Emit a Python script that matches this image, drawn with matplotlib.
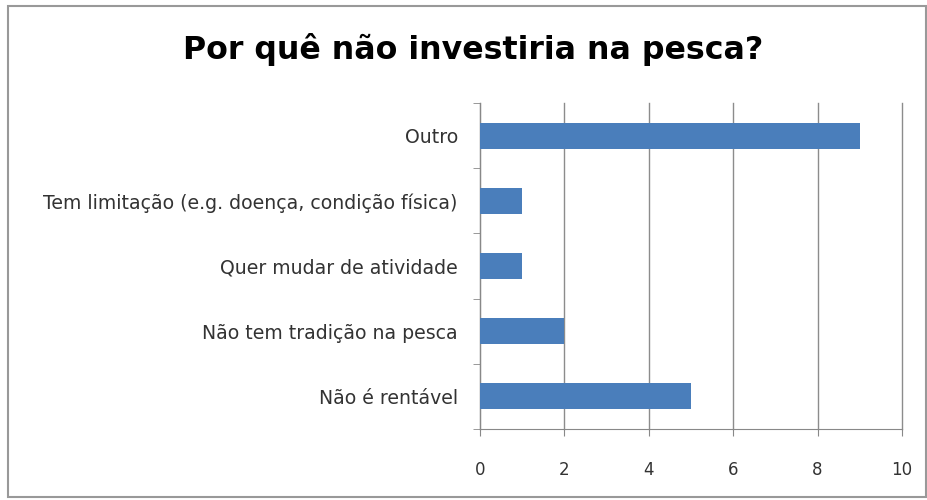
import matplotlib.pyplot as plt
from matplotlib.patches import Rectangle
import numpy as np

categories = ["Não é rentável", "Não tem tradição na pesca", "Quer mudar de atividade",
              "Tem limitação (e.g. doença, condição física)", "Outro"]
values = [5, 2, 1, 1, 9]
xticks = [0, 2, 4, 6, 8, 10]

plt.rcParams['font.family'] = ['DejaVu Sans']

fig = plt.figure(figsize=(9.28, 5.0), dpi=100)
ax = fig.add_axes([480 / 928, 1 - 429 / 500, 422 / 928, 326 / 500])

y = np.arange(len(categories))
ax.barh(y, values, height=0.4, color='#4a7ebb', zorder=3)

ax.set_xlim(0, 10)
ax.set_ylim(-0.5, len(categories) - 0.5)
ax.set_xticks(xticks)
ax.set_xticklabels([str(t) for t in xticks], fontsize=12, color='#333333')
ax.set_yticks(y)
ax.set_yticklabels(categories, fontsize=13.6, color='#333333')
ax.set_yticks(np.arange(-0.5, len(categories), 1), minor=True)
ax.tick_params(axis='y', which='major', length=0, pad=16)
ax.tick_params(axis='y', which='minor', length=5, color='#888888', direction='out')
ax.tick_params(axis='x', length=5, color='#888888', direction='out', pad=18)
ax.grid(axis='x', color='#8c8c8c', linewidth=1, zorder=0)
for line in ax.get_xgridlines():
    line.set_clip_on(False)

for side in ['top', 'right']:
    ax.spines[side].set_visible(False)
for side in ['left', 'bottom']:
    ax.spines[side].set_color('#888888')

fig.text(473 / 928, 1 - 50 / 500, "Por quê não investiria na pesca?",
         fontsize=22.8, fontweight='bold', ha='center', va='center')

# chart frame
fig.patches.append(Rectangle((8 / 928, 3 / 500), 918 / 928, 491 / 500,
                             transform=fig.transFigure, fill=False,
                             edgecolor='#999999', linewidth=1.5))

fig.savefig('out.png', dpi=100)
